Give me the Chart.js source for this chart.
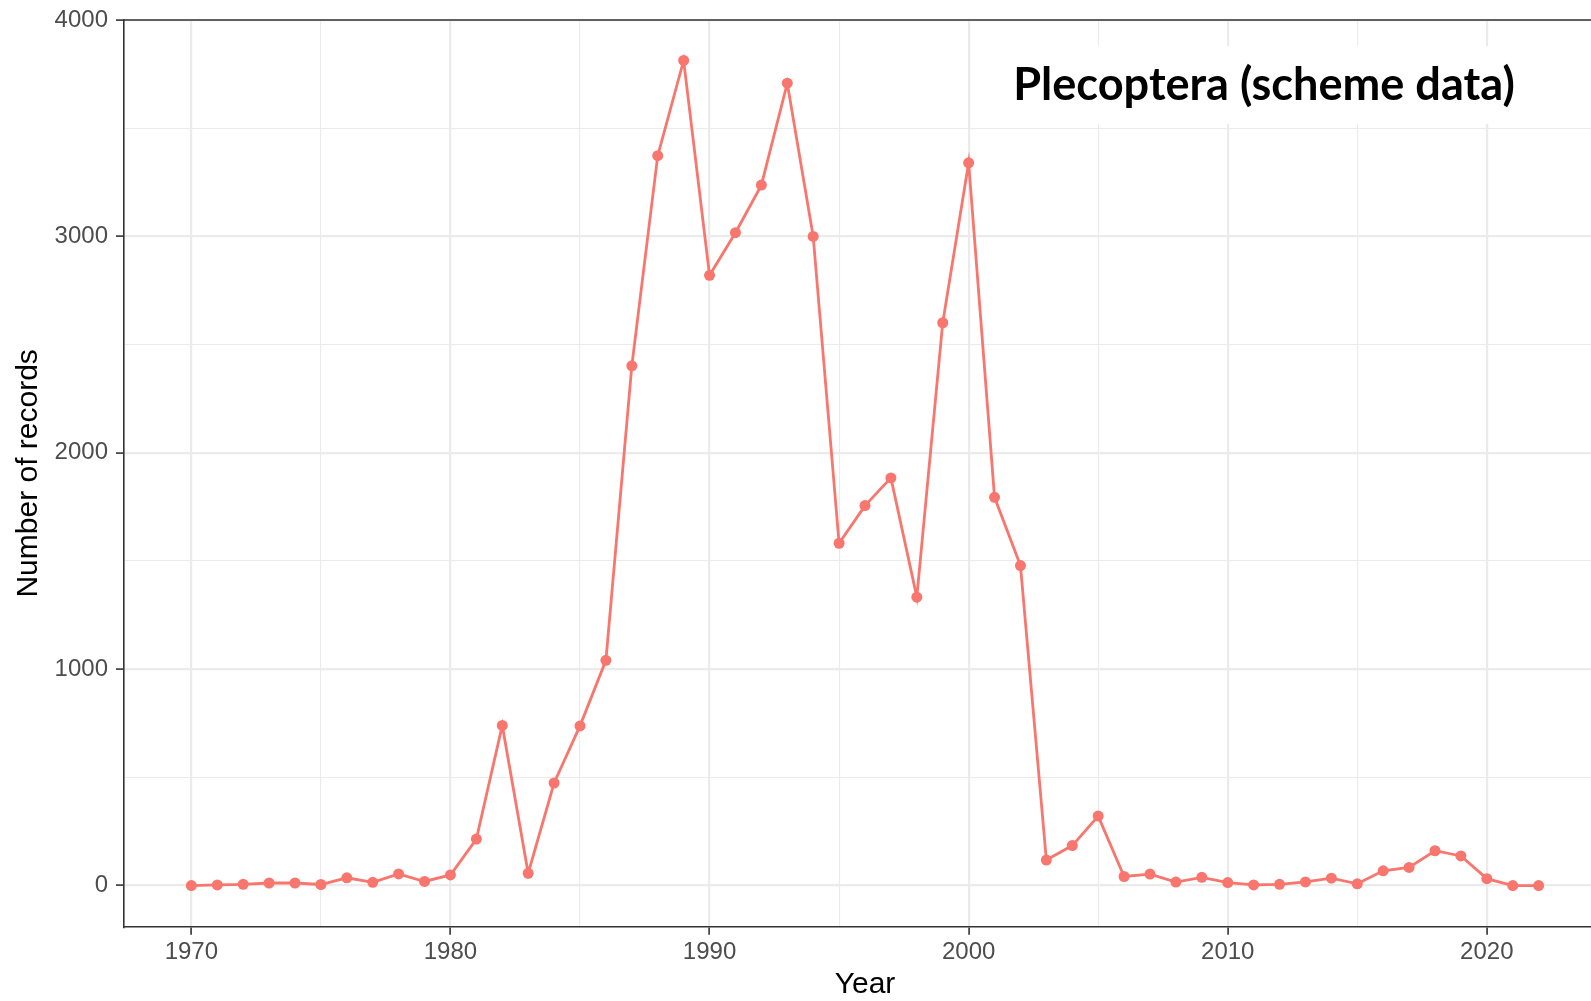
<!DOCTYPE html>
<html>
<head>
<meta charset="utf-8">
<title>Plecoptera (scheme data)</title>
<script src="https://cdn.jsdelivr.net/npm/chart.js@4.4.1/dist/chart.umd.min.js"></script>
<style>
  html, body { margin: 0; padding: 0; background: #fff; overflow: hidden; width: 1591px; height: 1001px; }
  canvas { display: block; }
</style>
</head>
<body>
<!-- the panel runs past the right edge of the picture, as in the original figure -->
<canvas id="plot" width="1606" height="1001"></canvas>
<script>
/* records per year */
const YEARS = [1970, 1971, 1972, 1973, 1974, 1975, 1976, 1977, 1978, 1979,
               1980, 1981, 1982, 1983, 1984, 1985, 1986, 1987, 1988, 1989,
               1990, 1991, 1992, 1993, 1994, 1995, 1996, 1997, 1998, 1999,
               2000, 2001, 2002, 2003, 2004, 2005, 2006, 2007, 2008, 2009,
               2010, 2011, 2012, 2013, 2014, 2015, 2016, 2017, 2018, 2019,
               2020, 2021, 2022];
const RECORDS = [0, 3, 6, 12, 12, 5, 36, 15, 54, 19,
                 49, 215, 740, 57, 474, 738, 1041, 2402, 3373, 3813,
                 2820, 3017, 3237, 3708, 3000, 1582, 1756, 1884, 1333, 2601,
                 3340, 1794, 1479, 118, 185, 321, 42, 53, 16, 38,
                 14, 3, 6, 17, 34, 8, 68, 84, 161, 137,
                 32, 0, 0];

const X_TICKS  = [1970, 1975, 1980, 1985, 1990, 1995, 2000, 2005, 2010, 2015, 2020];
const X_LABELS = ['1970', '', '1980', '', '1990', '', '2000', '', '2010', '', '2020'];
const Y_TICKS  = [0, 500, 1000, 1500, 2000, 2500, 3000, 3500, 4000];
const Y_LABELS = ['0', '', '1000', '', '2000', '', '3000', '', '4000'];

const TITLE = 'Plecoptera (scheme data)';
const LINE_COLOR = '#F8766D';
const FRAME = '#333333';

const isMajor = (scale, v) => scale === 'x' ? v % 10 === 0 : v % 1000 === 0;

function gridOpts(axis) {
  return {
    color: '#ebebeb',
    lineWidth: c => c.tick && isMajor(axis, c.tick.value) ? 2.2 : 1.1,
    tickColor: c => c.tick && isMajor(axis, c.tick.value) ? FRAME : 'rgba(0,0,0,0)',
    tickWidth: 1.6,
    tickLength: 8,
    drawTicks: true
  };
}

/* top edge of the panel box */
const frameTop = {
  id: 'frameTop',
  afterDraw(chart) {
    const { ctx, chartArea: a } = chart;
    ctx.save();
    ctx.strokeStyle = FRAME;
    ctx.lineWidth = 1.6;
    ctx.beginPath();
    ctx.moveTo(a.left, a.top);
    ctx.lineTo(a.right, a.top);
    ctx.stroke();
    ctx.restore();
  }
};

/* white label box holding the chart title */
const titleLabel = {
  id: 'titleLabel',
  afterDatasetsDraw(chart, args, opts) {
    const { ctx, scales } = chart;
    const cx = scales.x.getPixelForValue(opts.x);
    const cy = scales.y.getPixelForValue(opts.y);
    ctx.save();
    ctx.font = 'bold 48px Lato, "Open Sans", sans-serif';
    const size = 48 * opts.width / ctx.measureText(TITLE).width;
    ctx.font = 'bold ' + size.toFixed(1) + 'px Lato, "Open Sans", sans-serif';
    const w = ctx.measureText(TITLE).width;
    ctx.fillStyle = '#ffffff';
    ctx.fillRect(cx - w / 2 - 30, cy - 39, w + 60, 78);
    ctx.fillStyle = '#000000';
    ctx.textAlign = 'center';
    ctx.textBaseline = 'middle';
    ctx.fillText(TITLE, cx, cy + 1);
    ctx.restore();
  }
};

new Chart(document.getElementById('plot'), {
  type: 'line',
  data: {
    datasets: [{
      data: YEARS.map((y, i) => ({ x: y, y: RECORDS[i] })),
      borderColor: LINE_COLOR,
      borderWidth: 2.8,
      backgroundColor: LINE_COLOR,
      pointRadius: 5.5,
      pointBorderWidth: 0,
      pointBackgroundColor: LINE_COLOR,
      tension: 0
    }]
  },
  plugins: [titleLabel, frameTop],
  options: {
    responsive: false,
    animation: false,
    devicePixelRatio: 1,
    layout: { autoPadding: false, padding: { top: 18.5, right: 0, left: 0, bottom: 0 } },
    plugins: {
      legend: { display: false },
      tooltip: { enabled: false },
      titleLabel: { x: 2011.4, y: 3700, width: 502 }
    },
    scales: {
      x: {
        type: 'linear',
        min: 1967.4,
        max: 2024.6,
        afterBuildTicks: s => { s.ticks = X_TICKS.map(v => ({ value: v })); },
        afterFit: s => { s.height = 74.3; s.paddingLeft = 0; s.paddingRight = 0; },
        grid: gridOpts('x'),
        border: { display: true, color: FRAME, width: 1.6 },
        ticks: {
          autoSkip: false, maxRotation: 0, padding: 3,
          color: '#4d4d4d',
          font: { family: '"Liberation Sans", Arial, sans-serif', size: 24 },
          callback: (v, i) => X_LABELS[i]
        },
        title: {
          display: true, text: 'Year', color: '#000',
          font: { family: '"Liberation Sans", Arial, sans-serif', size: 30, lineHeight: 1 },
          padding: { top: 0, bottom: 1 }
        }
      },
      y: {
        min: -190,
        max: 4000,
        afterBuildTicks: s => { s.ticks = Y_TICKS.map(v => ({ value: v })); },
        afterFit: s => { s.width = 124; },
        grid: gridOpts('y'),
        border: { display: true, color: FRAME, width: 1.6 },
        ticks: {
          autoSkip: false, padding: 8,
          color: '#4d4d4d',
          font: { family: '"Liberation Sans", Arial, sans-serif', size: 24, lineHeight: 1 },
          callback: (v, i) => Y_LABELS[i]
        },
        title: {
          display: true, text: 'Number of records', color: '#000',
          font: { family: '"Liberation Sans", Arial, sans-serif', size: 30, lineHeight: 1 },
          padding: { top: 13.5, bottom: 0 }
        }
      }
    }
  }
});
</script>
</body>
</html>
